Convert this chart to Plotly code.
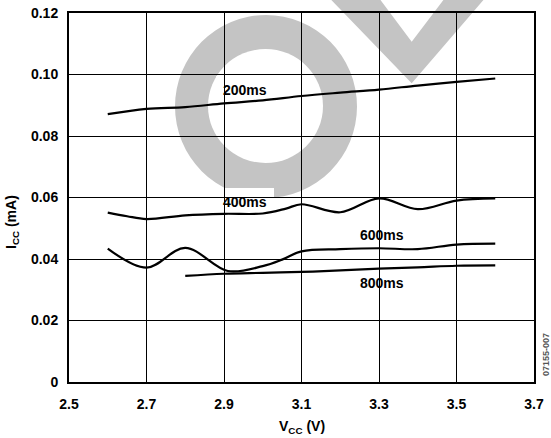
import plotly.graph_objects as go

# ---- data ----
v200 = [2.6, 2.7, 2.8, 2.9, 3.0, 3.1, 3.2, 3.3, 3.4, 3.5, 3.6]
i200 = [0.0871, 0.0888, 0.0894, 0.0906, 0.0916, 0.0930, 0.0941, 0.0951, 0.0964, 0.0976, 0.0987]

v400 = [2.6, 2.65, 2.7, 2.8, 2.9, 3.0, 3.06, 3.1, 3.2, 3.3, 3.4, 3.5, 3.6]
i400 = [0.0551, 0.0539, 0.0530, 0.0542, 0.0547, 0.0548, 0.0564, 0.0578, 0.0552, 0.0597, 0.0562, 0.0590, 0.0597]

v600 = [2.6, 2.7, 2.8, 2.91, 3.0, 3.05, 3.1, 3.2, 3.3, 3.4, 3.5, 3.6]
i600 = [0.0434, 0.0372, 0.0436, 0.0361, 0.0377, 0.0398, 0.0425, 0.0432, 0.0435, 0.0432, 0.0447, 0.0450]

v800 = [2.8, 2.9, 3.0, 3.1, 3.2, 3.3, 3.4, 3.5, 3.6]
i800 = [0.0345, 0.0352, 0.0355, 0.0358, 0.0363, 0.0369, 0.0373, 0.0378, 0.0379]

series_labels = ["200ms", "400ms", "600ms", "800ms"]

x_ticks = [2.5, 2.7, 2.9, 3.1, 3.3, 3.5, 3.7]
x_ticktext = ["2.5", "2.7", "2.9", "3.1", "3.3", "3.5", "3.7"]
y_ticks = [0, 0.02, 0.04, 0.06, 0.08, 0.10, 0.12]
y_ticktext = ["0", "0.02", "0.04", "0.06", "0.08", "0.10", "0.12"]

x_title = "V<sub>CC</sub> (V)"
y_title = "I<sub>CC</sub> (mA)"

# ---- figure geometry ----
W, H = 551, 438
L, R, T, B = 69, 534, 13, 382


def px_x(p):
    return (p - L) / (R - L)


def px_y(p):
    return (B - p) / (B - T)


FONT = "Liberation Sans, Arial, sans-serif"
GREY = "#c4c4c4"
FS = 14

fig = go.Figure()
for xs, ys in [(v200, i200), (v400, i400), (v600, i600), (v800, i800)]:
    fig.add_trace(go.Scatter(
        x=xs, y=ys, mode="lines",
        line=dict(color="black", width=2.2, shape="spline", smoothing=1.0),
        showlegend=False, hoverinfo="skip",
    ))

shapes = []
# watermark "O" ring (below grid)
shapes.append(dict(type="circle", xref="paper", yref="paper", layer="below",
                   x0=px_x(175), x1=px_x(357), y0=px_y(198), y1=px_y(15),
                   fillcolor=GREY, line=dict(width=0)))
shapes.append(dict(type="circle", xref="paper", yref="paper", layer="below",
                   x0=px_x(208), x1=px_x(323), y0=px_y(163), y1=px_y(49),
                   fillcolor="white", line=dict(width=0)))
# watermark "V" stroke
vpts = [(321.7, -10), (411.7, 83.3), (492, -10), (451, -10), (411.7, 41.7), (373, -10)]
path = "M " + " L ".join(f"{px_x(a):.4f},{px_y(b):.4f}" for a, b in vpts) + " Z"
shapes.append(dict(type="path", xref="paper", yref="paper", layer="below",
                   path=path, fillcolor=GREY, line=dict(width=0)))

# white boxes behind the curve labels (above grid, below curves)
label_pos = [(245, 90), (245, 202), (381.7, 235), (381.7, 283)]
box_h = [(76, 102), (188, 213), (221, 247.5), (269, 297)]
for (cx, cy), (y0, y1) in zip(label_pos, box_h):
    shapes.append(dict(type="rect", xref="paper", yref="paper", layer="between",
                       x0=px_x(cx - 29), x1=px_x(cx + 29), y0=px_y(y1), y1=px_y(y0),
                       fillcolor="white", line=dict(width=0)))

annotations = []
for txt, (cx, cy) in zip(series_labels, label_pos):
    annotations.append(dict(text=txt, xref="paper", yref="paper",
                            x=px_x(cx), y=px_y(cy), showarrow=False,
                            xanchor="center", yanchor="middle",
                            font=dict(family=FONT, size=FS, color="black", weight="bold")))

# axis titles
annotations.append(dict(text=x_title, xref="paper", yref="paper",
                        x=px_x(302), y=px_y(427), showarrow=False,
                        xanchor="center", yanchor="middle",
                        font=dict(family=FONT, size=FS, color="black", weight="bold")))
annotations.append(dict(text=y_title, xref="paper", yref="paper",
                        x=px_x(12), y=px_y(222), showarrow=False, textangle=-90,
                        xanchor="center", yanchor="middle",
                        font=dict(family=FONT, size=FS, color="black", weight="bold")))

annotations.append(dict(text="07155-007", xref="paper", yref="paper",
                        x=px_x(546), y=px_y(355), showarrow=False, textangle=-90,
                        xanchor="center", yanchor="middle",
                        font=dict(family=FONT, size=9, color="#555555")))

fig.update_layout(
    width=W, height=H,
    margin=dict(l=L, r=W - R, t=T, b=H - B, pad=0, autoexpand=False),
    paper_bgcolor="white", plot_bgcolor="white",
    font=dict(family=FONT, size=FS, color="black", weight="bold"),
    shapes=shapes, annotations=annotations,
    xaxis=dict(range=[2.5, 3.7], tickvals=x_ticks, ticktext=x_ticktext,
               showgrid=True, gridcolor="black", gridwidth=1.2,
               showline=True, linecolor="black", linewidth=2, mirror=True,
               ticks="", ticklabelstandoff=8, zeroline=False, automargin=False),
    yaxis=dict(range=[0, 0.12], tickvals=y_ticks, ticktext=y_ticktext,
               showgrid=True, gridcolor="black", gridwidth=1.2,
               showline=True, linecolor="black", linewidth=2, mirror=True,
               ticks="", ticklabelstandoff=6, zeroline=False, automargin=False),
)

fig.write_html(
    "out.html",
    config={"displayModeBar": False},
    post_script="document.body.style.margin='0';document.body.style.overflow='hidden';",
)
